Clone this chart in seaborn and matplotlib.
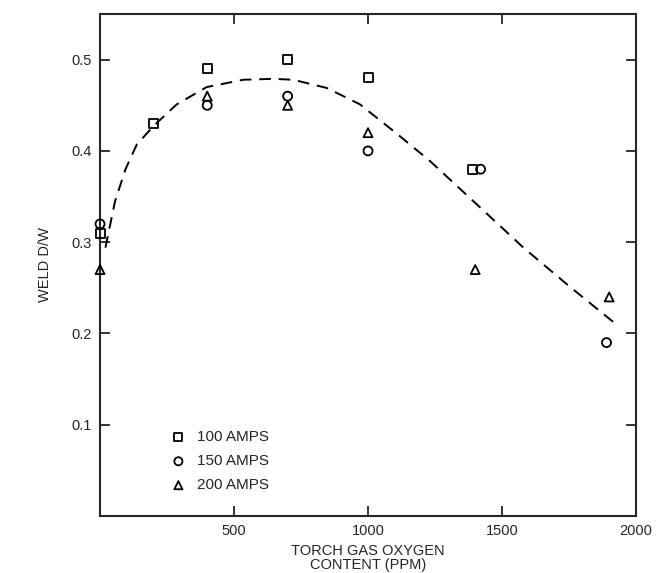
import matplotlib
matplotlib.use("Agg")
import matplotlib.pyplot as plt
import seaborn as sns
import pandas as pd

# weld depth/width vs torch gas oxygen
x_100 = [0, 200, 400, 700, 1000, 1390]
y_100 = [0.31, 0.43, 0.49, 0.50, 0.48, 0.38]
x_150 = [0, 400, 700, 1000, 1420, 1890]
y_150 = [0.32, 0.45, 0.46, 0.40, 0.38, 0.19]
x_200 = [0, 400, 700, 1000, 1400, 1900]
y_200 = [0.27, 0.46, 0.45, 0.42, 0.27, 0.24]

# dashed trend curve
curve_x = [20, 56, 95, 137, 202, 286, 398, 535, 647, 721, 846, 970, 1107, 1231, 1393, 1580, 1754, 1922]
curve_y = [0.294, 0.345, 0.380, 0.407, 0.428, 0.451, 0.470, 0.478, 0.479, 0.478, 0.469, 0.451, 0.419,
           0.389, 0.345, 0.294, 0.251, 0.211]

labels = ['100 AMPS', '150 AMPS', '200 AMPS']
markers = ['s', 'o', '^']

sns.set_style("ticks")
plt.rcParams['font.family'] = ['Liberation Sans', 'DejaVu Sans']

fig = plt.figure(figsize=(6.67, 5.73), dpi=100)
ax = fig.add_axes([0.150, 0.0995, 0.8035, 0.876])

sns.lineplot(x=curve_x, y=curve_y, ax=ax, color='black', linewidth=1.4,
             dashes=False, sort=False)
ax.lines[-1].set_dashes((6, 4))

series = [(x_100, y_100), (x_150, y_150), (x_200, y_200)]
for (xs, ys), lab, m in zip(series, labels, markers):
    df = pd.DataFrame({'x': xs, 'y': ys})
    sns.scatterplot(data=df, x='x', y='y', ax=ax, marker=m, s=42,
                    facecolor='none', edgecolor='black', linewidth=1.3,
                    label=lab, zorder=3)
for coll in ax.collections:
    coll.set_clip_on(False)

ax.set_xlim(0, 2000)
ax.set_ylim(0, 0.55)
ax.set_xticks([500, 1000, 1500, 2000])
ax.set_yticks([0.1, 0.2, 0.3, 0.4, 0.5])
ax.tick_params(direction='in', top=True, right=True, length=7, width=1.3,
               labelsize=10.5, pad=6)
for s in ax.spines.values():
    s.set_linewidth(1.5)

ax.set_xlabel('TORCH GAS OXYGEN\nCONTENT (PPM)', fontsize=10.5, labelpad=4, linespacing=1.0)
ax.set_ylabel('WELD D/W', fontsize=10.5, labelpad=14)

ax.legend(loc='lower left', bbox_to_anchor=(0.092, 0.02), frameon=False,
          fontsize=11, handletextpad=0.2, labelspacing=0.65, markerscale=0.9)

fig.savefig('out.png', dpi=100)
